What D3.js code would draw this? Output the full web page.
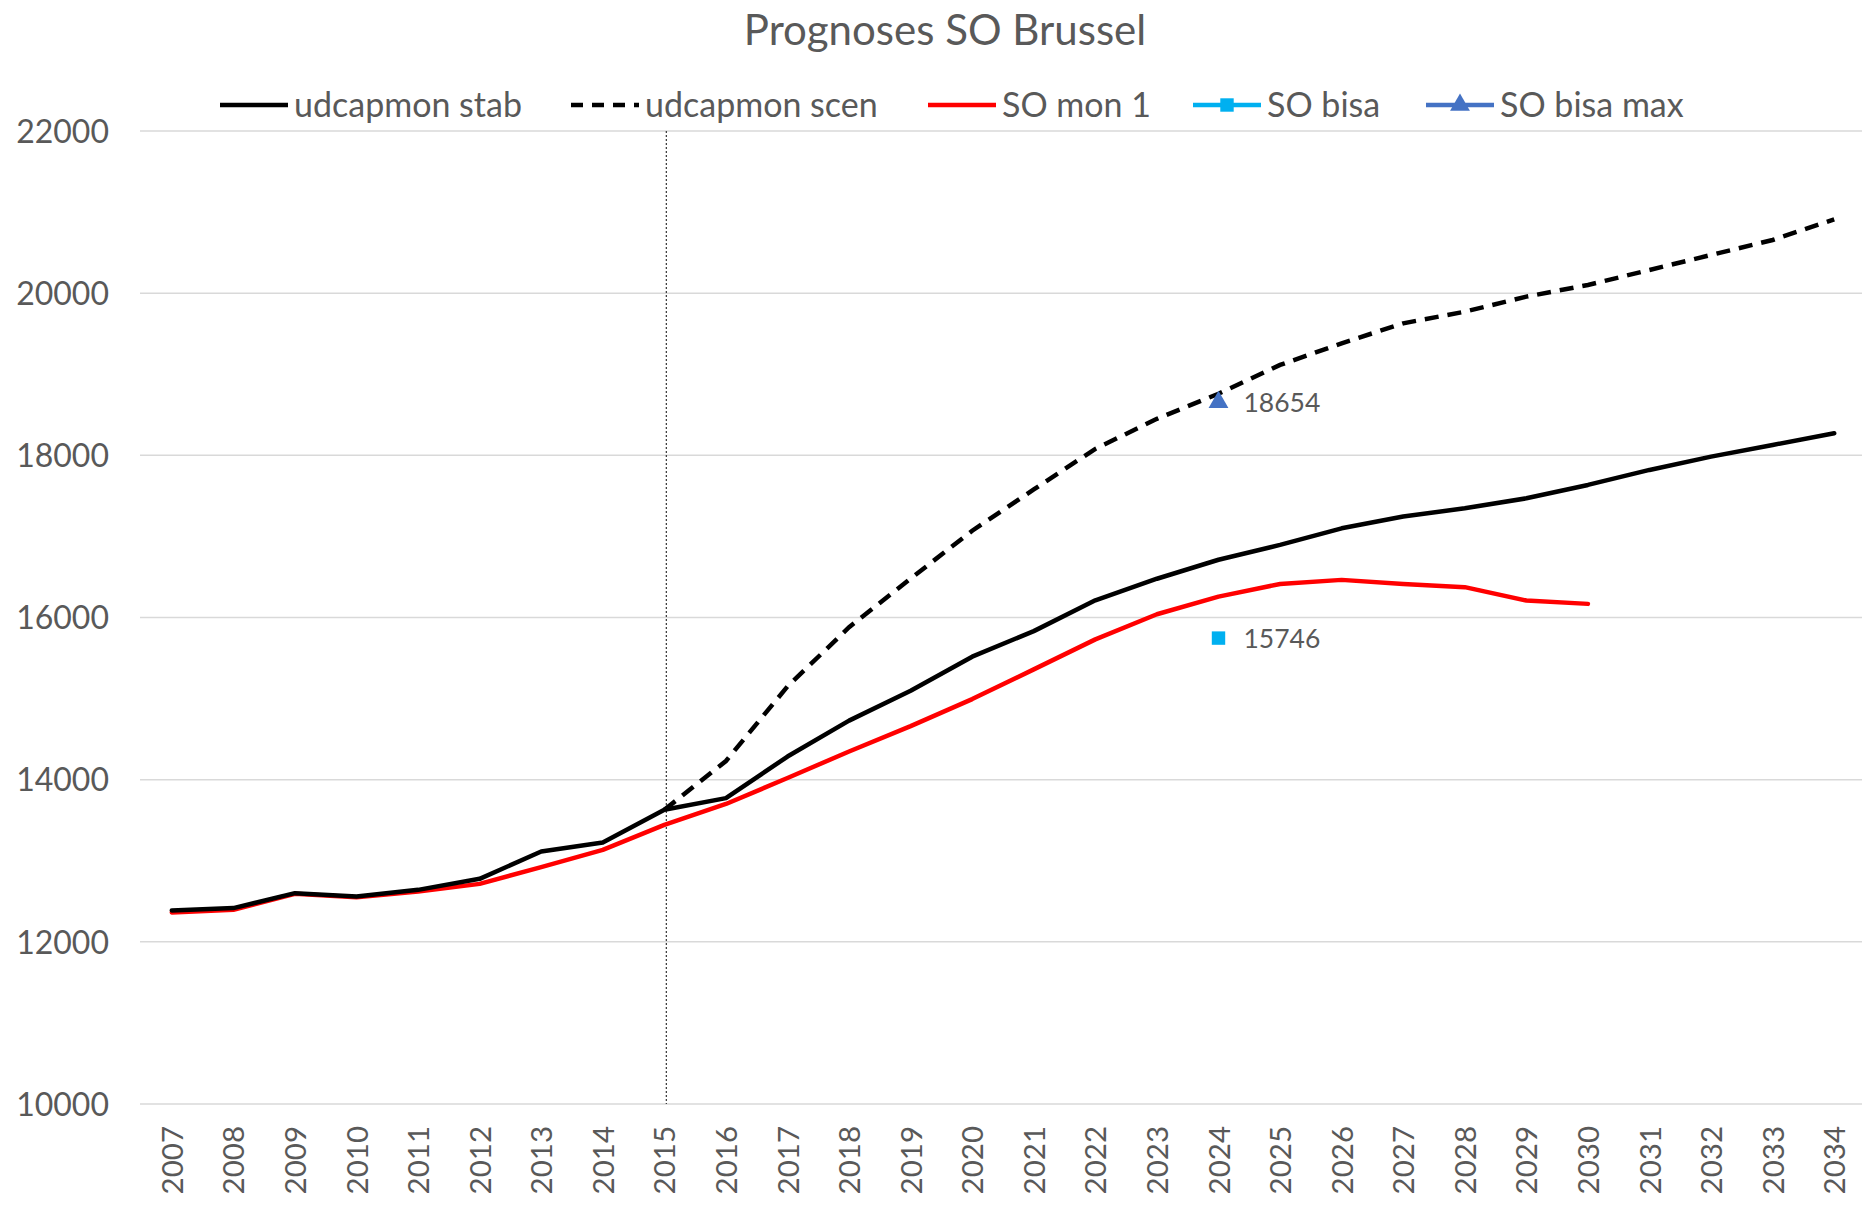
<!DOCTYPE html>
<html>
<head>
<meta charset="utf-8">
<script src="https://cdn.jsdelivr.net/npm/d3@7/dist/d3.min.js"></script>
<style>
  body { margin: 0; background: #fff; }
  text { font-family: Lato, "Open Sans", sans-serif; fill: #595959; }
</style>
</head>
<body>
<div id="chart"></div>
<script>
// categories
var years = ["2007","2008","2009","2010","2011","2012","2013","2014","2015","2016",
             "2017","2018","2019","2020","2021","2022","2023","2024","2025","2026",
             "2027","2028","2029","2030","2031","2032","2033","2034"];

// series values
var udcapmonStab = [12386,12416,12600,12558,12641,12777,13114,13225,13628,13772,
                    14285,14728,15096,15517,15832,16212,16478,16712,16895,17100,
                    17245,17347,17470,17635,17820,17984,18128,18273];
var udcapmonScen = [null,null,null,null,null,null,null,null,13628,14230,
                    15150,15880,16480,17070,17580,18080,18450,18760,19115,19382,
                    19628,19772,19957,20101,20286,20471,20656,20911];
var soMon1 = [12362,12395,12592,12551,12620,12715,12921,13135,13443,13700,
              14020,14348,14660,14994,15360,15730,16040,16258,16414,16464,
              16414,16374,16209,16168,null,null,null,null];
var soBisa = [{year: "2024", value: 15746}];
var soBisaMax = [{year: "2024", value: 18654}];

var yTicks = [10000,12000,14000,16000,18000,20000,22000];
var markerYear = "2015";

// layout
var W = 1865, H = 1205;
var plot = {left: 140, right: 1862, top: 131, bottom: 1104};

var svg = d3.select("#chart")
  .append("svg")
    .attr("width", W)
    .attr("height", H);

var x = d3.scalePoint()
  .domain(years)
  .range([141, 1865])
  .padding(0.5);

var y = d3.scaleLinear()
  .domain([10000, 22000])
  .range([plot.bottom, plot.top]);

// gridlines
svg.append("g")
  .selectAll("line")
  .data(yTicks)
  .enter()
  .append("line")
    .attr("x1", plot.left)
    .attr("x2", plot.right)
    .attr("y1", function(d) { return y(d); })
    .attr("y2", function(d) { return y(d); })
    .style("stroke", "#d9d9d9")
    .style("stroke-width", 1.5);

// Y axis labels
var yAxis = svg.append("g")
  .attr("transform", "translate(" + (plot.left - 31) + ",0)")
  .call(d3.axisLeft(y).tickValues(yTicks).tickSize(0).tickPadding(0).tickFormat(d3.format("d")));
yAxis.select(".domain").remove();
yAxis.selectAll("text")
  .style("font-size", "32px")
  .style("fill", "#595959")
  .style("font-family", "Lato, sans-serif")
  .attr("dy", "0.35em");

// X axis labels (rotated)
var xAxis = svg.append("g")
  .attr("transform", "translate(0," + plot.bottom + ")")
  .call(d3.axisBottom(x).tickSize(0));
xAxis.select(".domain").remove();
xAxis.selectAll("text")
  .style("font-size", "29.5px")
  .style("fill", "#595959")
  .style("font-family", "Lato, sans-serif")
  .attr("transform", "rotate(-90)")
  .attr("text-anchor", "end")
  .attr("x", -22)
  .attr("y", 0)
  .attr("dy", "0.36em");

// vertical dotted line at 2015
svg.append("line")
  .attr("x1", x(markerYear) + 2)
  .attr("x2", x(markerYear) + 2)
  .attr("y1", plot.top)
  .attr("y2", plot.bottom)
  .style("stroke", "#404040")
  .style("stroke-width", 1.3)
  .style("stroke-dasharray", "2,2");

// lines
var line = d3.line()
  .defined(function(d) { return d.v != null; })
  .x(function(d) { return x(d.year); })
  .y(function(d) { return y(d.v); });

function pairs(arr) {
  return years.map(function(yr, i) { return {year: yr, v: arr[i]}; });
}

svg.append("path")
  .datum(pairs(soMon1))
  .attr("d", line)
  .style("fill", "none")
  .style("stroke", "#ff0000")
  .style("stroke-width", 4.5)
  .style("stroke-linejoin", "round")
  .style("stroke-linecap", "round");

svg.append("path")
  .datum(pairs(udcapmonScen))
  .attr("d", line)
  .style("fill", "none")
  .style("stroke", "#000")
  .style("stroke-width", 4.5)
  .style("stroke-dasharray", "14,9");

svg.append("path")
  .datum(pairs(udcapmonStab))
  .attr("d", line)
  .style("fill", "none")
  .style("stroke", "#000")
  .style("stroke-width", 4.5)
  .style("stroke-linejoin", "round")
  .style("stroke-linecap", "round");

// single points with labels
var sq = d3.symbol().type(d3.symbolSquare).size(180);
var tri = d3.symbol().type(d3.symbolTriangle).size(170);

svg.selectAll(".bisa")
  .data(soBisa)
  .enter()
  .append("path")
    .attr("class", "bisa")
    .attr("d", sq)
    .attr("transform", function(d) { return "translate(" + x(d.year) + "," + y(d.value) + ")"; })
    .style("fill", "#00b0f0");

svg.selectAll(".bisamax")
  .data(soBisaMax)
  .enter()
  .append("path")
    .attr("class", "bisamax")
    .attr("d", tri)
    .attr("transform", function(d) { return "translate(" + x(d.year) + "," + y(d.value) + ")"; })
    .style("fill", "#4472c4");

svg.selectAll(".dlabel")
  .data(soBisa.concat(soBisaMax))
  .enter()
  .append("text")
    .attr("class", "dlabel")
    .attr("x", function(d) { return x(d.year) + 25; })
    .attr("y", function(d) { return y(d.value); })
    .attr("dy", "0.36em")
    .style("font-size", "26.5px")
    .text(function(d) { return d.value; });

// title
svg.append("text")
  .attr("x", 945)
  .attr("y", 30)
  .attr("dy", "0.35em")
  .attr("text-anchor", "middle")
  .style("font-size", "42px")
  .text("Prognoses SO Brussel");

// legend
var legend = [
  {name: "udcapmon stab", x0: 220, color: "#000", dash: null, marker: null},
  {name: "udcapmon scen", x0: 571, color: "#000", dash: "12,9", marker: null},
  {name: "SO mon 1", x0: 928, color: "#ff0000", dash: null, marker: null},
  {name: "SO bisa", x0: 1193, color: "#00b0f0", dash: null, marker: sq},
  {name: "SO bisa max", x0: 1426, color: "#4472c4", dash: null, marker: tri}
];
var legY = 105, legLen = 68;

var lg = svg.append("g").selectAll("g")
  .data(legend)
  .enter()
  .append("g");

lg.append("line")
  .attr("x1", function(d) { return d.x0; })
  .attr("x2", function(d) { return d.x0 + legLen; })
  .attr("y1", legY)
  .attr("y2", legY)
  .style("stroke", function(d) { return d.color; })
  .style("stroke-width", 4.5)
  .style("stroke-dasharray", function(d) { return d.dash; });

lg.filter(function(d) { return d.marker; })
  .append("path")
    .attr("d", function(d) { return d.marker(); })
    .attr("transform", function(d) { return "translate(" + (d.x0 + legLen / 2) + "," + legY + ")"; })
    .style("fill", function(d) { return d.color; });

lg.append("text")
  .attr("x", function(d) { return d.x0 + legLen + 6; })
  .attr("y", legY)
  .attr("dy", "0.36em")
  .style("font-size", "34px")
  .text(function(d) { return d.name; });
</script>
</body>
</html>
